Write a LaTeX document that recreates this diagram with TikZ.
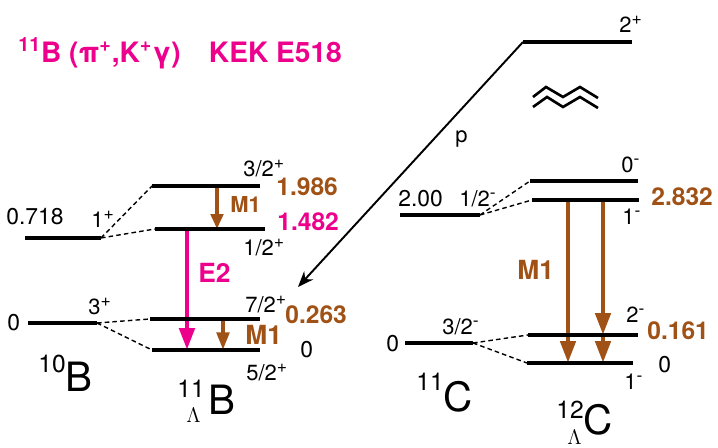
\documentclass[tikz,border=0pt]{standalone}
\usepackage{fontspec}
\setmainfont{TeX Gyre Heros}
\usepackage{tikz}
\usetikzlibrary{arrows.meta}
\definecolor{kekpink}{RGB}{236,0,140}
\definecolor{gbrown}{RGB}{160,82,22}
\newcommand\fsz[1]{\fontsize{#1}{#1}\selectfont}
\newcommand\upsc[1]{\raisebox{4.8pt}{\fsz{10}#1}}
\tikzset{
  lvl/.style={draw=black,line width=2.3pt},
  cor/.style={draw=black,line width=.8pt,dash pattern=on 2.6pt off 1.8pt},
  mone/.style={draw=gbrown,line width=2.2pt,-{Triangle[length=8.5pt,width=7pt]}},
  monel/.style={draw=gbrown,line width=2.7pt,-{Triangle[length=12.5pt,width=8.5pt]}},
  etwo/.style={draw=kekpink,line width=2.8pt,-{Triangle[length=12.5pt,width=8.5pt]}},
  knock/.style={draw=black,line width=1.1pt,-{Stealth[length=9pt,width=7pt]}},
  lb/.style={inner sep=0pt,anchor=base west,font=\fsz{12.5}},
  en/.style={inner sep=0pt,anchor=base west,font=\fsz{14}\bfseries,text=gbrown},
  tr/.style={inner sep=0pt,anchor=base west,font=\fsz{15}\bfseries,text=gbrown},
  nuc/.style={inner sep=0pt,anchor=base west,font=\fsz{23}},
  lam/.style={inner sep=0pt,anchor=base west,font=\fsz{12}},
}
\begin{document}
\begin{tikzpicture}[x=0.02cm,y=-0.02cm]
\useasboundingbox (0,0) rectangle (718,448);
% title
\node[inner sep=0pt,anchor=base west,font=\fsz{16}\bfseries,text=kekpink] (ttl) at (18,63)
  {\textsuperscript{11}B (π\textsuperscript{+},K\textsuperscript{+}γ)\hspace{16pt}KEK E518};
% level ends
\coordinate (b1l) at (25,238); \coordinate (b1r) at (101,238);
\coordinate (b0l) at (28,323); \coordinate (b0r) at (97,323);
\coordinate (h3l) at (152,186); \coordinate (h3r) at (260,186);
\coordinate (h1l) at (155,229); \coordinate (h1r) at (265,229);
\coordinate (h7l) at (150,319); \coordinate (h7r) at (260,319);
\coordinate (h5l) at (152,350); \coordinate (h5r) at (260,350);
\coordinate (c2l) at (523,42); \coordinate (c2r) at (632,42);
\coordinate (c1l) at (400,215); \coordinate (c1r) at (480,215);
\coordinate (c0l) at (405,343); \coordinate (c0r) at (473,343);
\coordinate (l0l) at (530,181); \coordinate (l0r) at (638,181);
\coordinate (l1l) at (532,200); \coordinate (l1r) at (639,200);
\coordinate (l2l) at (528,335); \coordinate (l2r) at (638,335);
\coordinate (lgl) at (527,363); \coordinate (lgr) at (633,363);
% x of the gamma arrows
\coordinate (xa) at (217,0); \coordinate (xe) at (187,0);
\coordinate (xb) at (223,0); \coordinate (xc) at (568,0);
\coordinate (xd) at (603,0);
\coordinate (ptip) at (298,287);
% gamma transitions
\draw[mone] (xa |- h3l) -- (xa |- h1l);
\draw[etwo] (xe |- h1l) -- (xe |- h5l);
\draw[mone,-{Triangle[length=10pt,width=7pt]},line width=2.3pt] (xb |- h7l) -- (xb |- h5l);
\draw[monel] (xc |- l1l) -- (xc |- lgl);
\draw[monel] (xd |- l1l) -- (xd |- l2l);
\draw[monel] (xd |- l2l) -- (xd |- lgl);
% levels
\draw[lvl] (b1l) -- (b1r) (b0l) -- (b0r);
\draw[lvl] (h3l) -- (h3r) (h1l) -- (h1r) (h7l) -- (h7r) (h5l) -- (h5r);
\draw[lvl] (c2l) -- (c2r) (c1l) -- (c1r) (c0l) -- (c0r);
\draw[lvl] (l0l) -- (l0r) (l1l) -- (l1r) (l2l) -- (l2r) (lgl) -- (lgr);
% core + Lambda
\draw[cor] (b1r) -- (h3l) (b1r) -- (h1l) (b0r) -- (h7l) (b0r) -- (h5l);
\draw[cor] (c1r) -- (l0l) (c1r) -- (l1l) (c0r) -- (l2l) (c0r) -- (lgl);
% proton out of 12C
\draw[knock] (c2l) -- (ptip);
\draw[line width=1.5pt] (533,97) -- (546,87) -- (563,97) -- (580,87) -- (598,98);
\draw[line width=1.5pt] (533,107) -- (547,97) -- (563,107) -- (580,97) -- (598,108);
\node[lb] (p) at (455,143) {p};
% 10B
\node[lb,font=\fsz{13}] (e718) at (6,225) {0.718};
\node[lb] (j1) at (91,228) {1\upsc{+}};
\node[lb,font=\fsz{13}] (e0b) at (7,331) {0};
\node[lb] (j3) at (88,315) {3\upsc{+}};
\node[nuc] (B10) at (38,392) {\raisebox{11.3pt}{\fsz{14}10}B};
% 11LB
\node[lb] (j32) at (243,177) {3/2\upsc{+}};
\node[en] (e1986) at (276,196) {1.986};
\node[tr,font=\fsz{12.5}\bfseries] (m1a) at (230,213) {M1};
\node[en,text=kekpink] (e1482) at (277,231) {1.482};
\node[lb] (j12) at (243,256) {1/2\upsc{+}};
\node[tr,text=kekpink] (e2) at (198,283) {E2};
\node[lb] (j72) at (245,313) {7/2\upsc{+}};
\node[en] (e263) at (285,324) {0.263};
\node[tr] (m1b) at (245,345) {M1};
\node[lb,font=\fsz{13}] (e0h) at (300,358) {0};
\node[lb] (j52) at (246,381) {5/2\upsc{+}};
\node[nuc] (B11) at (177,415) {\raisebox{10pt}{\fsz{14}11}\hspace{2pt}B};
\node[lam] (lb11) at (186,423) {$\Lambda$};
% 11C
\node[lb] (j2p) at (619,33) {2\upsc{+}};
\node[lb,font=\fsz{13}] (e200) at (398,207) {2.00};
\node[lb] (j12m) at (459,207) {1/2\upsc{-}};
\node[lb,font=\fsz{13}] (e0c) at (386,352) {0};
\node[lb] (j32m) at (442,335) {3/2\upsc{-}};
\node[nuc] (C11) at (416,412) {\raisebox{12.5pt}{\fsz{14}11}C};
% 12LC
\node[lb] (j0m) at (621,173) {0\upsc{-}};
\node[en] (e2832) at (651,206) {2.832};
\node[lb] (j1m) at (622,225) {1\upsc{-}};
\node[tr] (m1c) at (517,280) {M1};
\node[lb] (j2m) at (626,323) {2\upsc{-}};
\node[en] (e161) at (647,340) {0.161};
\node[lb,font=\fsz{13}] (e0l) at (658,373) {0};
\node[lb] (j1mb) at (624,390) {1\upsc{-}};
\node[nuc] (C12) at (556,435) {\raisebox{9.6pt}{\fsz{14}12}C};
\node[lam] (lc12) at (567,445) {$\Lambda$};
\end{tikzpicture}
\end{document}
